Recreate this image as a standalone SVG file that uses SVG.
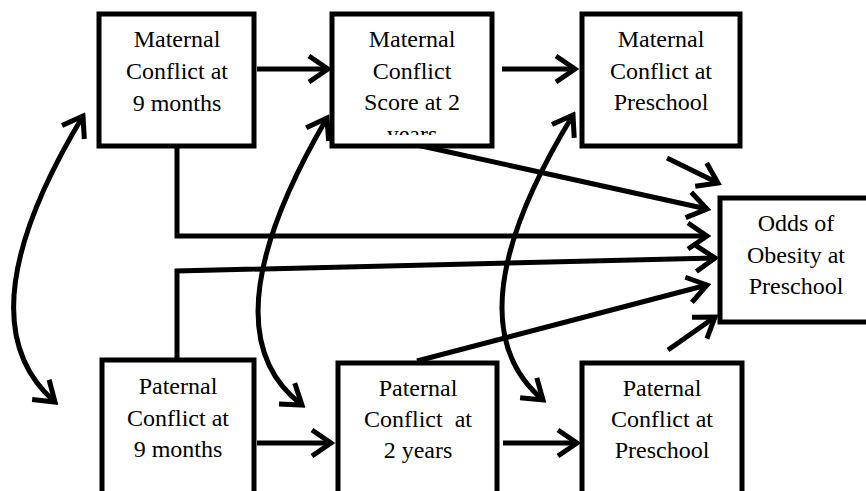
<svg xmlns="http://www.w3.org/2000/svg" width="866" height="491" viewBox="0 0 866 491">
<style>
.box{fill:#fff;stroke:#000;stroke-width:5}
.lbl{font-family:'Liberation Serif','DejaVu Serif',Tinos,'Times New Roman',Times,serif;font-size:24px;fill:#000;text-anchor:middle}
.c{fill:none;stroke:#000;stroke-width:5;stroke-linejoin:miter}
.a{marker-end:url(#ah)}
.d{marker-start:url(#ah);marker-end:url(#ah)}
</style>
<defs>
<marker id="ah" viewBox="-26 -16 30 32" refX="0" refY="0" markerWidth="30" markerHeight="32" markerUnits="userSpaceOnUse" orient="auto-start-reverse">
<path d="M -19 -13 L 0 0 L -19 13" fill="none" stroke="#000" stroke-width="5" stroke-linejoin="miter"/>
</marker>
<clipPath id="clip2"><rect x="334" y="16" width="156" height="119"/></clipPath>
</defs>
<g id="connectors">
<line class="c a" x1="257" y1="69" x2="328" y2="69"/>
<line class="c a" x1="502" y1="69" x2="575" y2="69"/>
<path class="c a" d="M 177 146 V 236 H 707"/>
<path class="c a" d="M 177 358 V 271 L 715 258"/>
<line class="c a" x1="417" y1="145" x2="707" y2="209"/>
<line class="c a" x1="667" y1="158" x2="718" y2="183"/>
<line class="c a" x1="417" y1="361" x2="707" y2="285"/>
<line class="c a" x1="668" y1="350" x2="715" y2="317"/>
<line class="c a" x1="257" y1="443" x2="331" y2="443"/>
<line class="c a" x1="503" y1="443" x2="577" y2="443"/>
<path class="c d" d="M 83 116 Q -40 320 55 402"/>
<path class="c d" d="M 327 118 Q 203 330 302 405"/>
<path class="c d" d="M 573 115 Q 448 320 543 400"/>
</g>
<g id="n-mat9">
<rect class="box" x="99" y="14" width="155" height="132"/>
<text class="lbl" font-family="Liberation Serif"><tspan x="177" y="47">Maternal</tspan><tspan x="177" y="79">Conflict at</tspan><tspan x="177" y="111">9 months</tspan></text>
</g>
<g id="n-mat2">
<rect class="box" x="332" y="14" width="160" height="132"/>
<text class="lbl" clip-path="url(#clip2)"><tspan x="412" y="47">Maternal</tspan><tspan x="412" y="79">Conflict</tspan><tspan x="412" y="110">Score at 2</tspan><tspan x="412" y="142">years</tspan></text>
</g>
<g id="n-matpre">
<rect class="box" x="582" y="14" width="158" height="132"/>
<text class="lbl"><tspan x="661" y="47">Maternal</tspan><tspan x="661" y="79">Conflict at</tspan><tspan x="661" y="110">Preschool</tspan></text>
</g>
<g id="n-odds">
<rect class="box" x="720" y="198" width="170" height="124"/>
<text class="lbl"><tspan x="796" y="231">Odds of</tspan><tspan x="796" y="263">Obesity at</tspan><tspan x="796" y="294">Preschool</tspan></text>
</g>
<g id="n-pat9">
<rect class="box" x="102" y="360" width="152" height="140"/>
<text class="lbl"><tspan x="178" y="394">Paternal</tspan><tspan x="178" y="426">Conflict at</tspan><tspan x="178" y="457">9 months</tspan></text>
</g>
<g id="n-pat2">
<rect class="box" x="338" y="363" width="159" height="140"/>
<text class="lbl" xml:space="preserve"><tspan x="418" y="396">Paternal</tspan><tspan x="418" y="427">Conflict  at</tspan><tspan x="418" y="458">2 years</tspan></text>
</g>
<g id="n-patpre">
<rect class="box" x="582" y="363" width="160" height="140"/>
<text class="lbl"><tspan x="662" y="396">Paternal</tspan><tspan x="662" y="427">Conflict at</tspan><tspan x="662" y="458">Preschool</tspan></text>
</g>
</svg>
